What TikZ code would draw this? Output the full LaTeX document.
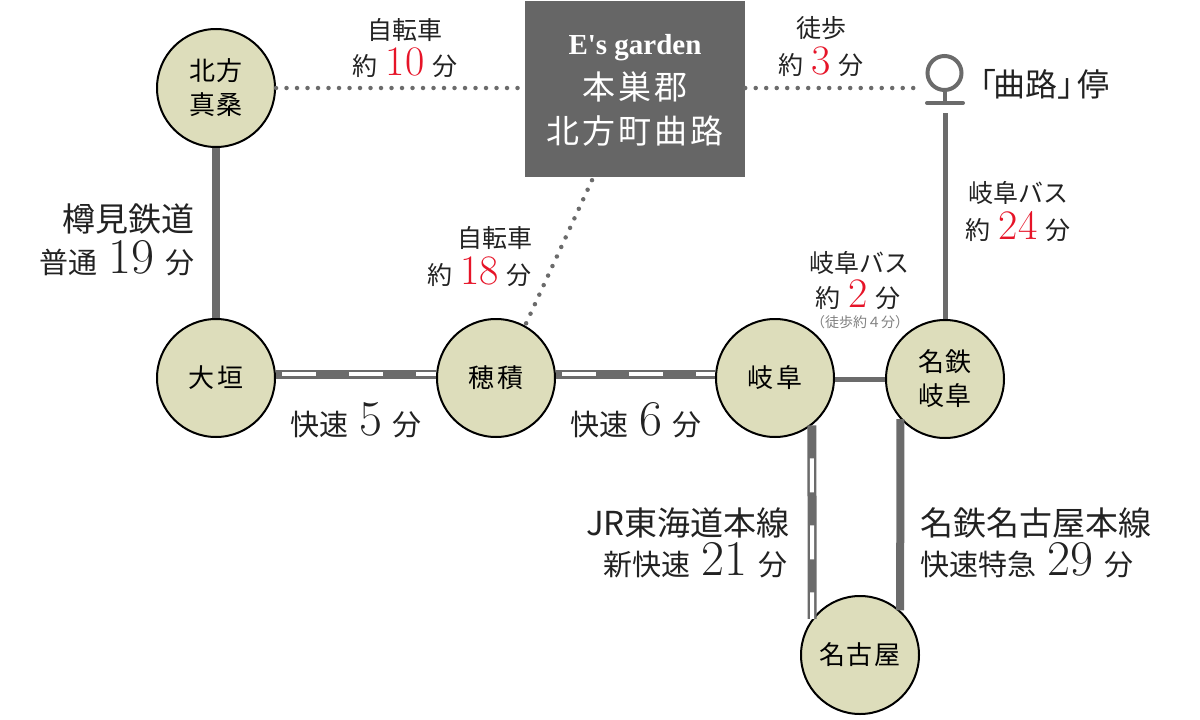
\documentclass[tikz,border=0pt]{standalone}
\usepackage{fontspec}
\newfontfamily\cjkfont{Noto Sans CJK JP}
\newfontfamily\gardenfont{Liberation Serif}
\definecolor{stationfill}{RGB}{221,221,187}
\definecolor{linegray}{RGB}{107,107,107}
\definecolor{boxgray}{RGB}{102,102,102}
\definecolor{inkgray}{RGB}{34,34,34}
\definecolor{minred}{RGB}{230,20,40}
\newcommand{\redmin}[1]{\kern8pt{\rmfamily\fontsize{42}{42}\selectfont\textcolor{minred}{#1}}\kern8pt}
\newcommand{\bigmin}[1]{\kern11pt{\rmfamily\fontsize{50}{50}\selectfont #1}\kern11pt}
\tikzset{
  station/.style={circle,draw=black,line width=2pt,fill=stationfill,minimum size=118pt,inner sep=0pt,
    align=center,text=black,font=\cjkfont\fontsize{26}{34}\selectfont},
  infosmall/.style={anchor=base,inner sep=0pt,text=inkgray,font=\cjkfont\fontsize{25}{30}\selectfont},
  infomid/.style={infosmall,font=\cjkfont\fontsize{29}{34}\selectfont},
  infolarge/.style={infosmall,font=\cjkfont\fontsize{33}{38}\selectfont},
  boxtext/.style={anchor=base,inner sep=0pt,text=white,font=\cjkfont\fontsize{33}{38}\selectfont},
  plainline/.style={draw=linegray,line width=8pt},
  railline/.style={draw=linegray,line width=9pt,
    postaction={draw=white,line width=4pt,dash pattern=on 34pt off 33pt,dash phase=#1}},
  dotline/.style={draw=linegray,line width=4.5pt,line cap=round,dash pattern=on 0pt off 10.5pt},
}
\begin{document}
\begin{tikzpicture}[x=1pt,y=-1pt]
  \useasboundingbox (0,0) rectangle (1200,720);
  \node[station] (kitagata) at (216,88) {北\kern2pt 方\\真\kern2pt 桑};
  \node[station] (ogaki) at (216,378) {大\kern4pt 垣};
  \node[station] (hozumi) at (496,378) {穂\kern4pt 積};
  \node[station] (gifu) at (775,378) {岐\kern4pt 阜};
  \node[station] (meitetsu) at (945,379) {名\kern2pt 鉄\\岐\kern2pt 阜};
  \node[station] (nagoya) at (860,655) {名\kern2pt 古\kern2pt 屋};
  \node[draw=none,fill=boxgray,minimum width=220pt,minimum height=176pt,inner sep=0pt] (garden) at (635,89) {};
  \node[boxtext,font=\gardenfont\bfseries\fontsize{29}{32}\selectfont] (gardenname) at (635,54) {E's garden};
  \node[boxtext] (gardencity) at (635,99) {本\kern3pt 巣\kern3pt 郡};
  \node[boxtext] (gardentown) at (635,143) {北\kern3pt 方\kern3pt 町\kern3pt 曲\kern3pt 路};
  % bus stop
  \node[circle,draw=linegray,line width=4pt,minimum size=34pt,inner sep=0pt] (stopring) at (944.5,73) {};
  \coordinate (stopbase) at (944.5,103);
  \coordinate (stopleft) at (927,103);
  \coordinate (stopright) at (963,103);
  \coordinate (buslinetop) at (945,113);
  \coordinate (stopdot) at (920,88);
  \draw[linegray,line width=4pt] (stopring.south) -- (stopbase);
  \draw[linegray,line width=4pt,line cap=round] (stopleft) -- (stopright);
  % connectors
  \draw[plainline] (kitagata.south) -- (ogaki.north);
  \draw[railline=61pt] ([yshift=4pt]ogaki.east) -- ([yshift=4pt]hozumi.west);
  \draw[railline=61pt] ([yshift=4pt]hozumi.east) -- ([yshift=4pt]gifu.west);
  \draw[plainline,line width=5pt] ([yshift=-1.5pt]gifu.east) -- ([yshift=-.5pt]meitetsu.west);
  \draw[plainline,line width=5pt] (buslinetop) -- (meitetsu.north);
  \draw[railline=34pt] (gifu.-52) -- (nagoya.143);
  \draw[plainline] (meitetsu.-138) -- (nagoya.48);
  \draw[dotline] (kitagata.east) -- (garden.west |- kitagata.east);
  \draw[dotline] (garden.east |- stopdot) -- (stopdot);
  \draw[dotline] ([xshift=-43pt,yshift=-3pt]garden.south) -- (hozumi.61);
  % labels
  \node[infosmall] (bikeone) at (405,39) {自転車};
  \node[infosmall] (bikeonemin) at (405,75) {約\redmin{10}分};
  \node[infosmall] (walkone) at (821,37) {徒歩};
  \node[infosmall] (walkonemin) at (821,74) {約\redmin{3}分};
  \node[infosmall,anchor=base west,font=\cjkfont\fontsize{32}{36}\selectfont] (stopname) at (964,96) {「\kern-3pt 曲路」\kern-12pt 停};
  \node[infolarge,anchor=base east] (tarumi) at (195,231) {樽見鉄道};
  \node[infomid,anchor=base east] (tarumimin) at (195,273) {普通\bigmin{19}分};
  \node[infosmall] (bikehozumi) at (495,247) {自転車};
  \node[infosmall,anchor=base east] (bikehozumimin) at (532,284) {約\redmin{18}分};
  \node[infosmall] (busstop) at (1018,202) {岐阜バス};
  \node[infosmall] (busstopmin) at (1018,239) {約\redmin{24}分};
  \node[infosmall] (busgifu) at (859,272) {岐阜バス};
  \node[infosmall] (busgifumin) at (858,307) {約\redmin{2}分};
  \node[infosmall,text=gray,font=\cjkfont\fontsize{14}{16}\selectfont] (walkgifu) at (860,327) {（徒歩約４分）};
  \node[infomid] (rapidone) at (356,435) {快速\bigmin{5}分};
  \node[infomid] (rapidtwo) at (636,435) {快速\bigmin{6}分};
  \node[infolarge,anchor=base east] (jrline) at (790,535) {JR東海道本線};
  \node[infomid,anchor=base east] (jrmin) at (788,575) {新快速\bigmin{21}分};
  \node[infolarge,anchor=base west] (mtline) at (920,535) {名鉄名古屋本線};
  \node[infomid,anchor=base west] (mtmin) at (920,575) {快速特急\bigmin{29}分};
\end{tikzpicture}
\end{document}
